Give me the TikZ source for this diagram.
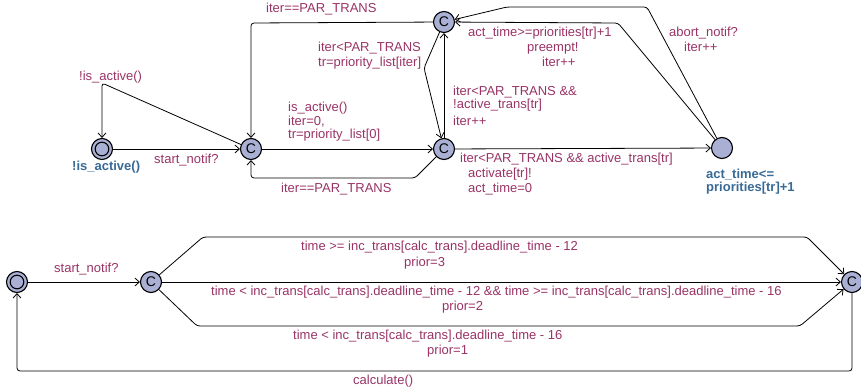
\documentclass[tikz,border=0pt]{standalone}
\usepackage{fontspec}
\setmainfont{Liberation Sans}
\usetikzlibrary{arrows.meta}
\definecolor{lblc}{RGB}{153,51,102}
\definecolor{namec}{RGB}{56,106,150}
\definecolor{nodefill}{RGB}{169,176,212}
\begin{document}
\begin{tikzpicture}[x=1pt,y=-1pt,
  loc/.style={circle,draw=black,line width=1.1pt,fill=nodefill,minimum size=21pt,inner sep=0pt,font=\fontsize{14}{14}\selectfont},
  initloc/.style={loc,path picture={\draw[line width=1.1pt] (path picture bounding box.center) circle (6.8pt);}},
  edge/.style={draw=black,line width=0.8pt,rounded corners=3pt,-{Straight Barb[length=4.5pt,width=8pt,line width=0.8pt]}},
  lbl/.style={text=lblc,font=\fontsize{13}{15}\selectfont,inner sep=0pt,anchor=base west},
  nm/.style={text=namec,font=\fontsize{13}{15}\selectfont\bfseries,inner sep=0pt,anchor=base west}]
\useasboundingbox (0,0) rectangle (861,390);
% top automaton
\node[initloc] (I1) at (102,149) {};
\node[loc] (A) at (251,149) {C};
\node[loc] (B) at (444,149) {C};
\node[loc] (D) at (444,22) {C};
\node[loc] (E) at (722,148) {};
\node[nm] (nI1) at (72,170.5) {!is\_active()};
\node[nm] (nE1) at (706,178.5) {act\_time<=};
\node[nm] (nE2) at (706,191.5) {priorities[tr]+1};
% top edges
\draw[edge] (I1) -- (A);
\draw[edge] (A) -- (102,83) -- (I1);
\draw[edge] (A) -- (B);
\draw[edge] (B) -- (415,178) -- (251,178) -- (A);
\draw[edge] (D) -- (251,23) -- (A);
\draw[edge] (D) -- (424,68) -- (B);
\draw[edge] (B) -- (D);
\draw[edge] (B) -- (E);
\draw[edge] (E) -- (618,23) -- (D);
\draw[edge] (E) -- (647,7) -- (507,7) -- (D);
% top labels
\node[lbl] (t1) at (154,163.5) {start\_notif?};
\node[lbl] (t2) at (79,80.5) {!is\_active()};
\node[lbl] (t3) at (288,111.5) {is\_active()};
\node[lbl] (t4) at (288,125.5) {iter=0,};
\node[lbl] (t5) at (288,138.5) {tr=priority\_list[0]};
\node[lbl] (t6) at (281,192.5) {iter==PAR\_TRANS};
\node[lbl] (t7) at (266,12.5) {iter==PAR\_TRANS};
\node[lbl] (t8) at (318,51.5) {iter<PAR\_TRANS};
\node[lbl] (t9) at (318,66.5) {tr=priority\_list[iter]};
\node[lbl] (t10) at (453,95.5) {iter<PAR\_TRANS \&\&};
\node[lbl] (t11) at (453,108.5) {!active\_trans[tr]};
\node[lbl] (t12) at (453,125.5) {iter++};
\node[lbl] (t13) at (460,162.5) {iter<PAR\_TRANS \&\& active\_trans[tr]};
\node[lbl] (t14) at (468,177.5) {activate[tr]!};
\node[lbl] (t15) at (468,192.5) {act\_time=0};
\node[lbl] (t16) at (468,36.5) {act\_time>=priorities[tr]+1};
\node[lbl] (t17) at (527,51.5) {preempt!};
\node[lbl] (t18) at (542,66.5) {iter++};
\node[lbl] (t19) at (669,36.5) {abort\_notif?};
\node[lbl] (t20) at (684,51.5) {iter++};
% bottom automaton
\node[initloc] (I2) at (17,282) {};
\node[loc] (F) at (151,282) {C};
\node[loc] (G) at (852,282) {C};
\draw[edge] (I2) -- (F);
\draw[edge] (F) -- (203,237) -- (807,237) -- (G);
\draw[edge] (F) -- (G);
\draw[edge] (F) -- (197,326) -- (800,326) -- (G);
\draw[edge] (G) -- (852,371) -- (17,371) -- (I2);
\node[lbl] (b1) at (54,272.5) {start\_notif?};
\node[lbl] (b2) at (301,250.5) {time >= inc\_trans[calc\_trans].deadline\_time - 12};
\node[lbl] (b3) at (404,266.5) {prior=3};
\node[lbl] (b4) at (211,295.5) {time < inc\_trans[calc\_trans].deadline\_time - 12 \&\& time >= inc\_trans[calc\_trans].deadline\_time - 16};
\node[lbl] (b5) at (442,310.5) {prior=2};
\node[lbl] (b6) at (293,339.5) {time < inc\_trans[calc\_trans].deadline\_time - 16};
\node[lbl] (b7) at (427,354.5) {prior=1};
\node[lbl] (b8) at (353,384.5) {calculate()};
\end{tikzpicture}
\end{document}
